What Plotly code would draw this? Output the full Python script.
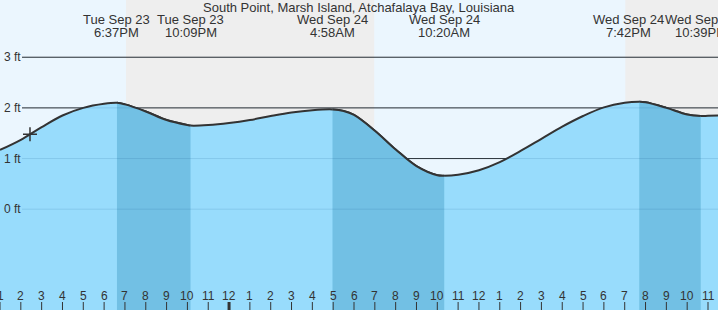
import plotly.graph_objects as go

# ---------------- data (hours after 1:00 PM Tue Sep 23) ----------------
times = [0, 1, 2, 3, 4, 5, 5.617, 6, 7, 8, 9, 9.15, 10, 11, 12, 13, 14, 15, 15.967,
         16.5, 17, 18, 19, 20, 21, 21.333, 22, 23, 24, 25, 26, 27, 28, 29, 30, 30.7,
         31, 32, 33, 33.65, 34, 34.5]
heights = [1.17, 1.37, 1.62, 1.85, 2.00, 2.08, 2.10, 2.07, 1.93, 1.76, 1.66, 1.65, 1.66,
           1.70, 1.76, 1.84, 1.91, 1.955, 1.97,
           1.94, 1.86, 1.55, 1.18, 0.85, 0.67, 0.66, 0.68, 0.77, 0.93, 1.15, 1.39, 1.63,
           1.84, 2.01, 2.10, 2.12,
           2.11, 2.00, 1.87, 1.84, 1.845, 1.85]

tick_hours = list(range(0, 35))
tick_labels = ["1", "2", "3", "4", "5", "6", "7", "8", "9", "10", "11",
               "12", "1", "2", "3", "4", "5", "6", "7", "8", "9", "10", "11",
               "12", "1", "2", "3", "4", "5", "6", "7", "8", "9", "10", "11"]
midnight_hours = [11]

event_times = [5.617, 9.15, 15.967, 21.333, 30.7, 33.65]
event_dates = ["Tue Sep 23", "Tue Sep 23", "Wed Sep 24", "Wed Sep 24", "Wed Sep 24", "Wed Sep 24"]
event_clock = ["6:37PM", "10:09PM", "4:58AM", "10:20AM", "7:42PM", "10:39PM"]
falling_pairs = [(0, 1), (2, 3), (4, 5)]

night_start = [6.05, 30.03]
night_end = [17.97, 40.0]

now_time = 1.44
now_height = 1.48

level_values = [3, 2, 1, 0]
level_labels = ["3 ft", "2 ft", "1 ft", "0 ft"]

title = "South Point, Marsh Island, Atchafalaya Bay, Louisiana"

# ---------------- styling ----------------
W, H = 718, 310
X0, X1 = 0.0, 34.48
Y0, Y1 = -1.99, 4.13
DAY = "#ebf6fe"
NIGHT = "#eeeeee"
LIGHT = "#98dcfc"
DARK = "#72c0e4"
INK = "#333333"
FONT = "Liberation Sans, Arial, sans-serif"
px_per_hour = W / (X1 - X0)

fig = go.Figure()

def add_area(xref, fillcolor):
    fig.add_trace(go.Scatter(x=[X0 - 1, X1 + 1], y=[Y0 - 1, Y0 - 1], mode="lines",
                             line=dict(width=0), xaxis=xref, yaxis="y",
                             hoverinfo="skip", showlegend=False))
    fig.add_trace(go.Scatter(x=times, y=heights, mode="lines", fill="tonexty",
                             fillcolor=fillcolor,
                             line=dict(color=INK, width=2, shape="spline", smoothing=1),
                             xaxis=xref, yaxis="y", hoverinfo="skip", showlegend=False))

add_area("x", LIGHT)

layout_axes = {}
for k, (a, b) in enumerate(falling_pairs, start=2):
    t0, t1 = event_times[a], event_times[b]
    d0 = (t0 - X0) / (X1 - X0)
    d1 = min((t1 - X0) / (X1 - X0), 1.0)
    layout_axes[f"xaxis{k}"] = dict(domain=[d0, d1], range=[t0, t1], anchor="y",
                                    visible=False, fixedrange=True)
    add_area(f"x{k}", DARK)

fig.add_trace(go.Scatter(x=[now_time], y=[now_height], mode="markers",
                         marker=dict(symbol="cross-thin", size=10,
                                     line=dict(color=INK, width=1.5)),
                         hoverinfo="skip", showlegend=False))

shapes = []
for s, e in zip(night_start, night_end):
    shapes.append(dict(type="rect", xref="x", yref="paper", x0=s, x1=e, y0=0, y1=1,
                       fillcolor=NIGHT, line=dict(width=0), layer="below"))
line_start = X0 + 22 / px_per_hour
for v in level_values:
    shapes.append(dict(type="line", xref="x", yref="y", x0=line_start, x1=X1 + 1, y0=v, y1=v,
                       line=dict(color=INK, width=1), layer="below"))
for v in level_values:
    shapes.append(dict(type="line", xref="x", yref="y", x0=line_start, x1=X1 + 1, y0=v, y1=v,
                       line=dict(color="rgba(0,70,120,0.13)", width=1), layer="above"))
for t in tick_hours:
    shapes.append(dict(type="line", xref="x", yref="paper", x0=t, x1=t, y0=0, y1=8 / H,
                       line=dict(color=INK, width=3 if t in midnight_hours else 1),
                       layer="above"))

annotations = []
annotations.append(dict(text=title, xref="paper", yref="paper", x=0.5, y=1 - 8 / H,
                        xanchor="center", yanchor="middle", showarrow=False,
                        font=dict(size=13, color=INK, family=FONT)))
for i, (t, d, c) in enumerate(zip(event_times, event_dates, event_clock)):
    shift = 0
    if i + 1 < len(event_times):
        gap = (event_times[i + 1] - t) * px_per_hour
        if gap < 72:
            shift = gap - 72
    for txt, py in ((d, 20), (c, 32)):
        annotations.append(dict(text=txt, xref="x", yref="paper", x=t, y=1 - py / H,
                                xanchor="center", yanchor="middle", showarrow=False,
                                xshift=shift, font=dict(size=13, color=INK, family=FONT)))
for v, lab in zip(level_values, level_labels):
    annotations.append(dict(text=lab, xref="paper", yref="y", x=2 / W, y=v,
                            xanchor="left", yanchor="middle", showarrow=False,
                            font=dict(size=12, color=INK, family=FONT)))
for t, lab in zip(tick_hours, tick_labels):
    annotations.append(dict(text=lab, xref="x", yref="paper", x=t, y=1 - 296 / H,
                            xanchor="center", yanchor="middle", showarrow=False,
                            font=dict(size=12, color=INK, family=FONT)))

fig.update_layout(
    width=W, height=H, margin=dict(l=0, r=0, t=0, b=0),
    paper_bgcolor=DAY, plot_bgcolor="rgba(0,0,0,0)",
    xaxis=dict(range=[X0, X1], visible=False, fixedrange=True),
    yaxis=dict(range=[Y0, Y1], visible=False, fixedrange=True),
    shapes=shapes, annotations=annotations, showlegend=False, hovermode=False,
    **layout_axes,
)

fig.write_html("out.html", config={"displayModeBar": False})
